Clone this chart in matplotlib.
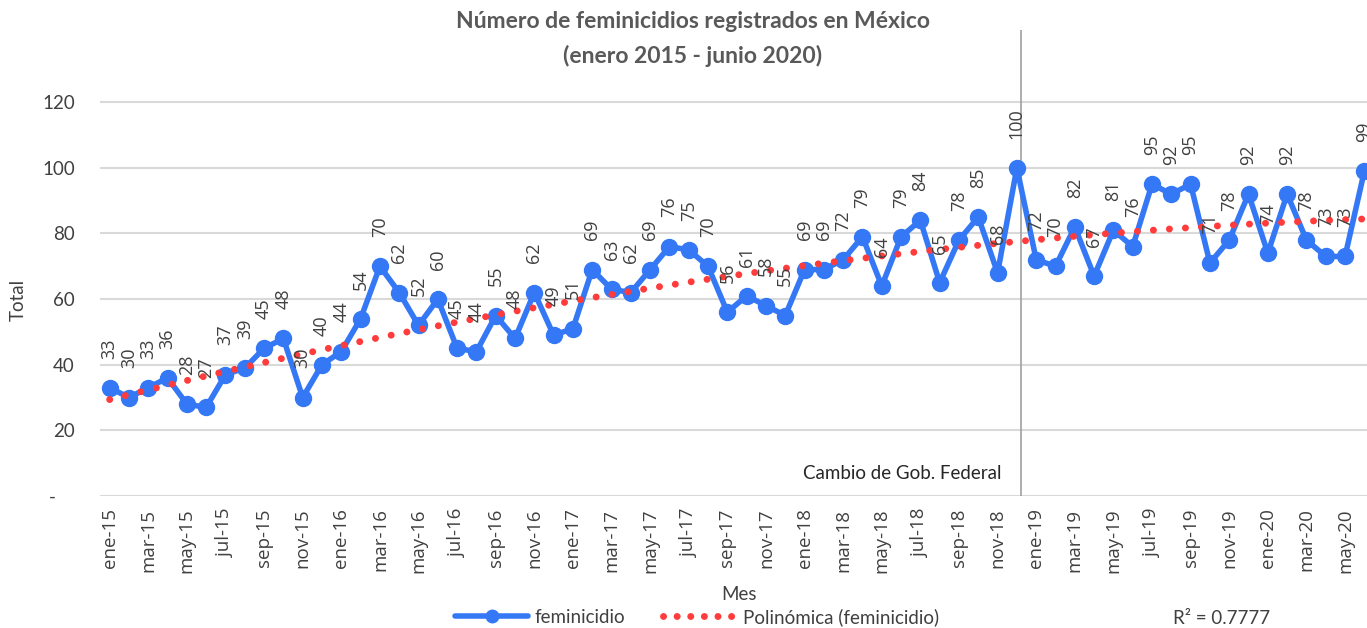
import numpy as np
import matplotlib
matplotlib.use("Agg")
import matplotlib.pyplot as plt
from matplotlib.lines import Line2D

# Datos: feminicidios por mes, enero 2015 - junio 2020
meses = ["ene", "feb", "mar", "abr", "may", "jun", "jul", "ago", "sep", "oct", "nov", "dic"]
anios = ["15", "16", "17", "18", "19", "20"]
etiquetas = [f"{m}-{a}" for a in anios for m in meses][:66]

feminicidio = [
    33, 30, 33, 36, 28, 27, 37, 39, 45, 48, 30, 40,
    44, 54, 70, 62, 52, 60, 45, 44, 55, 48, 62, 49,
    51, 69, 63, 62, 69, 76, 75, 70, 56, 61, 58, 55,
    69, 69, 72, 79, 64, 79, 84, 65, 78, 85, 68, 100,
    72, 70, 82, 67, 81, 76, 95, 92, 95, 71, 78, 92,
    74, 92, 78, 73, 73, 99,
]
r2_texto = "R² = 0.7777"
cambio_gob = "dic-18"

azul = "#3478F6"
rojo = "#FF3B3B"
gris_texto = "#404040"

x = np.arange(len(feminicidio))
y = np.array(feminicidio)

# linea de tendencia polinomica (orden 2, como en Excel)
coef = np.polyfit(x + 1, y, 2)
tendencia = np.polyval(coef, x + 1)

fig = plt.figure(figsize=(13.67, 6.28), dpi=100)
ax = fig.add_axes([100 / 1367, 1 - 496 / 628, 1274 / 1367, 466 / 628])

ax.plot(x, y, color=azul, lw=4, marker="o", ms=11.5, zorder=3)
ax.plot(x, tendencia, color=rojo, lw=5, linestyle=(0, (0.01, 2.3)),
        dash_capstyle="round", zorder=4)

for xi, yi in zip(x, y):
    ax.annotate(str(yi), (xi, yi), xytext=(0, 21), textcoords="offset points",
                rotation=90, ha="center", va="bottom", fontsize=13,
                color=gris_texto, family="Open Sans", zorder=5, clip_on=False)

# linea vertical del cambio de gobierno
xc = etiquetas.index(cambio_gob) + 0.2
ax.axvline(xc, color="#A0A0A0", lw=1.2, zorder=2)
ax.text(xc - 1, 7, "Cambio de Gob. Federal", ha="right", va="center",
        fontsize=13.5, color="#262626", family="Lato")

ax.set_xlim(-0.5, len(x) - 0.5)
ax.set_ylim(0, 142)
ax.set_yticks(range(0, 121, 20))
ax.set_yticklabels(["-    "] + [str(v) for v in range(20, 121, 20)])
ax.set_xticks(x[::2])
ax.set_xticklabels(etiquetas[::2], rotation=90, family="Open Sans", fontsize=13.5,
                   color=gris_texto)
for lab in ax.get_yticklabels():
    lab.set_family("Lato")
    lab.set_fontsize(13.5)
    lab.set_color(gris_texto)
ax.tick_params(axis="both", length=0)
ax.tick_params(axis="x", pad=9)
ax.tick_params(axis="y", pad=18)

for v in range(0, 121, 20):
    ax.axhline(v, color="#D9D9D9", lw=1.5, zorder=1)
for s in ax.spines.values():
    s.set_visible(False)

fig.text(693 / 1367, 1 - 22 / 628, "Número de feminicidios registrados en México",
         ha="center", va="center", fontsize=16.5, fontweight="bold", color="#595959",
         family="Lato")
fig.text(693 / 1367, 1 - 56 / 628, "(enero 2015 - junio 2020)",
         ha="center", va="center", fontsize=16.5, fontweight="bold", color="#595959",
         family="Lato")

fig.text(18 / 1367, 1 - 300 / 628, "Total", rotation=90, ha="center", va="center",
         fontsize=13.5, color=gris_texto, family="Lato")
fig.text(739 / 1367, 1 - 595 / 628, "Mes", ha="center", va="center",
         fontsize=13.5, color=gris_texto, family="Lato")

handles = [
    Line2D([], [], color=azul, lw=4, marker="o", ms=9, solid_capstyle="round"),
    Line2D([], [], color=rojo, lw=5, linestyle=(0, (0.01, 1.95)), dash_capstyle="round"),
]
fig.legend(handles, ["feminicidio", "Polinómica (feminicidio)"], loc="center",
           bbox_to_anchor=(697 / 1367, 1 - 617 / 628), ncol=2, frameon=False,
           prop={"family": "Lato", "size": 13.5}, handlelength=3.9, columnspacing=2.0,
           handletextpad=0.35, labelcolor=gris_texto)
fig.text(1222 / 1367, 1 - 618 / 628, r2_texto, ha="center", va="center",
         fontsize=13.5, color=gris_texto, family="Lato")

fig.savefig("out.png", dpi=100)
